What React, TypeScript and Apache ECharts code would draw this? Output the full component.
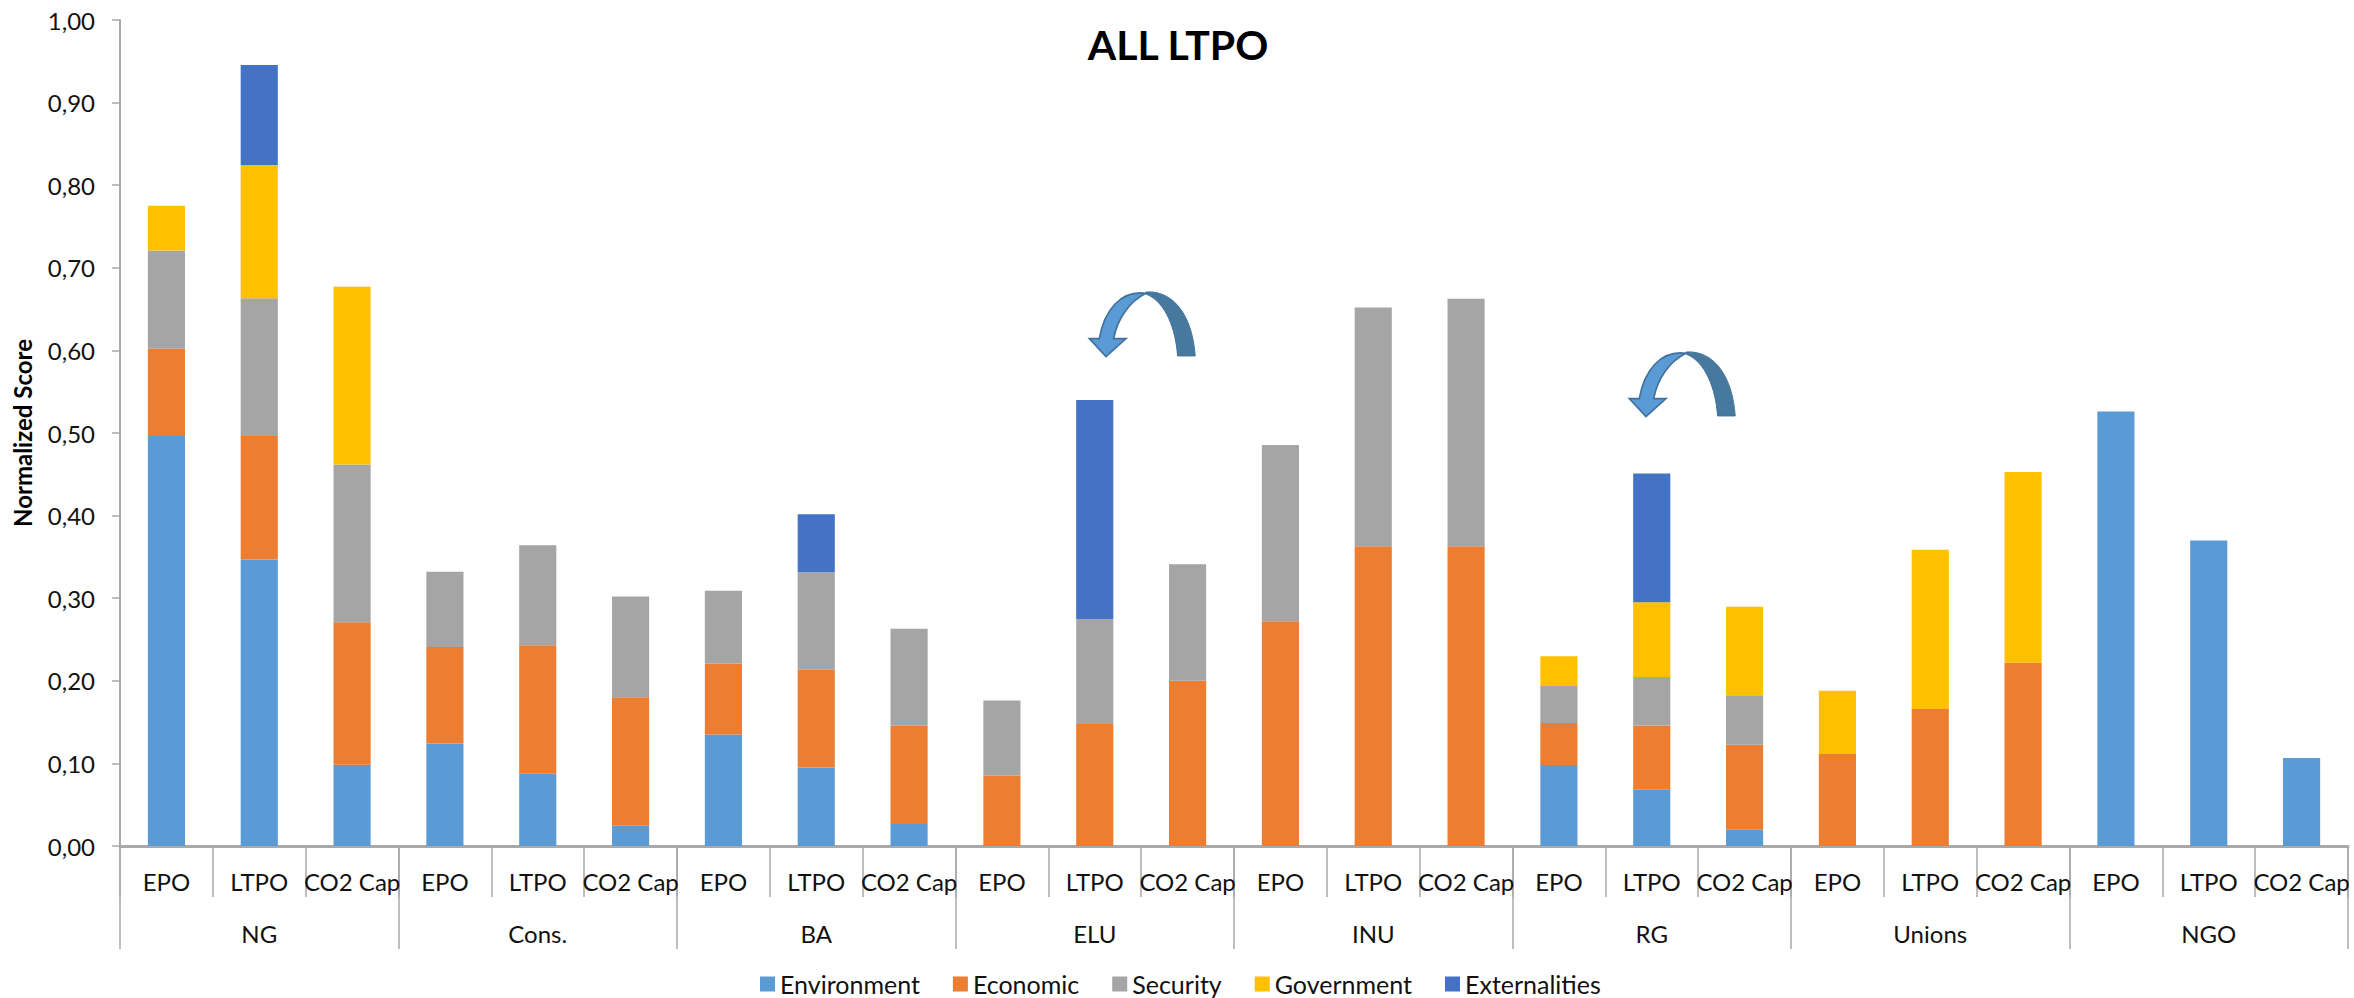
import React, { useEffect, useRef } from "react";
import * as echarts from "echarts";

const FONT = "Lato";

const scenarios = [
  "EPO", "LTPO", "CO2 Cap", "EPO", "LTPO", "CO2 Cap", "EPO", "LTPO", "CO2 Cap", "EPO", "LTPO", "CO2 Cap",
  "EPO", "LTPO", "CO2 Cap", "EPO", "LTPO", "CO2 Cap", "EPO", "LTPO", "CO2 Cap", "EPO", "LTPO", "CO2 Cap",
];
const stakeholders = ["NG", "Cons.", "BA", "ELU", "INU", "RG", "Unions", "NGO"];
const yTicks = { min: 0, max: 1, interval: 0.1 };

const environment = [
  0.4965, 0.347, 0.0985, 0.124, 0.0875, 0.0246, 0.135, 0.095, 0.0266, null, null, null,
  null, null, null, 0.098, 0.0682, 0.0198, null, null, null, 0.526, 0.37, 0.1065,
];
const economic = [
  0.1055, 0.1495, 0.1725, 0.117, 0.1555, 0.1554, 0.086, 0.1185, 0.119, 0.0855, 0.1477, 0.2,
  0.272, 0.363, 0.363, 0.051, 0.0778, 0.1028, 0.1114, 0.1658, 0.2219, null, null, null,
];
const security = [
  0.119, 0.1665, 0.191, 0.091, 0.121, 0.122, 0.088, 0.118, 0.1174, 0.0905, 0.1267, 0.141,
  0.2135, 0.289, 0.2995, 0.0447, 0.0586, 0.0598, null, null, null, null, null, null,
];
const government = [
  0.054, 0.1615, 0.215, null, null, null, null, null, null, null, null, null,
  null, null, null, 0.0359, 0.0904, 0.1073, 0.0766, 0.1929, 0.2308, null, null, null,
];
const externalities = [
  null, 0.121, null, null, null, null, null, 0.07, null, null, 0.2656, null,
  null, null, null, null, 0.156, null, null, null, null, null, null, null,
];

const seriesDefs = [
  { name: "Environment", color: "#5B9BD5", data: environment },
  { name: "Economic", color: "#ED7D31", data: economic },
  { name: "Security", color: "#A5A5A5", data: security },
  { name: "Government", color: "#FFC000", data: government },
  { name: "Externalities", color: "#4472C4", data: externalities },
];

// Curved arrow: the light head sweeps over a darker back band.
echarts.graphic.registerShape(
  "curvedArrowFront",
  echarts.graphic.extendPath(
    "M85 176 L55 176 L105 230 L165 176 L128 176 C140 115 175 65 225 40 C150 30 100 90 85 176 Z",
    {}
  )
);
echarts.graphic.registerShape(
  "curvedArrowBack",
  echarts.graphic.extendPath(
    "M225 36 C310 30 365 110 373 228 L320 228 C315 150 285 65 225 42 Z",
    {}
  )
);

const curvedArrow = (x: number, y: number) => ({
  type: "group",
  x,
  y,
  scaleX: 1 / 3,
  scaleY: 1 / 3,
  silent: true,
  children: [
    { type: "curvedArrowBack", style: { fill: "#47799F", stroke: "#41719C", lineWidth: 3 } },
    { type: "curvedArrowFront", style: { fill: "#5B9BD5", stroke: "#41719C", lineWidth: 5 } },
  ],
});

const textStyle = { fontFamily: FONT, fontSize: 24, color: "#111" };
const axisGrey = "#A9A9A9";

export default function App() {
  const ref = useRef<HTMLDivElement>(null);

  useEffect(() => {
    const chart = echarts.init(ref.current!, null, { renderer: "svg" });
    chart.setOption({
      animation: false,
      backgroundColor: "#fff",
      title: {
        text: "ALL LTPO",
        left: 1173,
        top: 19,
        textAlign: "center",
        textStyle: { fontFamily: FONT, fontSize: 41, fontWeight: "bold", color: "#000" },
      },
      legend: {
        left: 760,
        top: 971,
        padding: 0,
        itemWidth: 15,
        itemHeight: 15,
        itemGap: 33,
        icon: "rect",
        textStyle: { ...textStyle, fontSize: 25, lineHeight: 26 },
        data: seriesDefs.map((s) => s.name),
      },
      grid: { left: 120, right: 6, top: 20, bottom: 152 },
      xAxis: [
        {
          type: "category",
          data: scenarios,
          axisLine: { show: true, lineStyle: { color: axisGrey, width: 3 } },
          axisTick: {
            show: true,
            alignWithLabel: false,
            interval: 0,
            length: 51,
            lineStyle: { color: axisGrey, width: 1.5 },
          },
          axisLabel: { ...textStyle, interval: 0, margin: 23 },
        },
        {
          type: "category",
          position: "bottom",
          data: stakeholders,
          axisLine: { show: false },
          axisTick: {
            show: true,
            interval: 0,
            length: 103,
            lineStyle: { color: axisGrey, width: 1.5 },
          },
          axisLabel: { ...textStyle, interval: 0, margin: 75 },
        },
      ],
      yAxis: {
        type: "value",
        ...yTicks,
        name: "Normalized Score",
        nameLocation: "middle",
        nameGap: 86,
        nameTextStyle: { fontFamily: FONT, fontSize: 24, fontWeight: "bold", color: "#000" },
        axisLine: { show: true, lineStyle: { color: axisGrey, width: 2 } },
        axisTick: { show: true, length: 8, lineStyle: { color: axisGrey, width: 1.5 } },
        splitLine: { show: false },
        axisLabel: {
          ...textStyle,
          margin: 25,
          formatter: (v: number) => v.toFixed(2).replace(".", ","),
        },
      },
      series: seriesDefs.map((s) => ({
        name: s.name,
        type: "bar",
        stack: "score",
        xAxisIndex: 0,
        barWidth: "40%",
        itemStyle: { color: s.color },
        data: s.data,
      })),
      graphic: [curvedArrow(1071, 280), curvedArrow(1611, 340)],
    });
    return () => chart.dispose();
  }, []);

  return (
    <div
      ref={ref}
      style={{ position: "fixed", left: 0, top: 0, width: 2354, height: 998 }}
    />
  );
}
